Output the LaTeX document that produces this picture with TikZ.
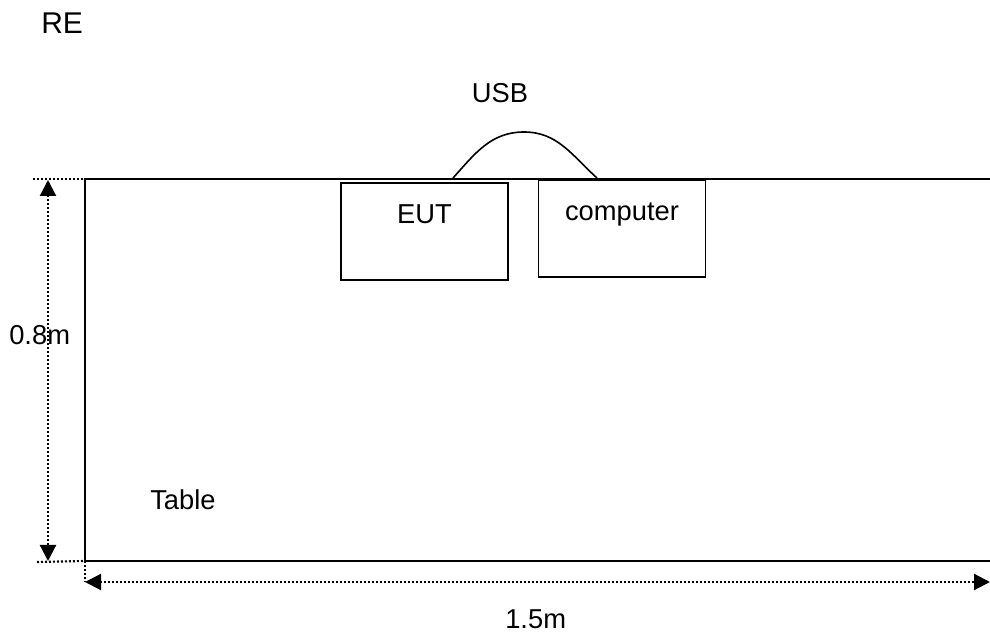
\documentclass[tikz,border=0pt]{standalone}
\usepackage{fontspec}
\setmainfont{Liberation Sans}
\usepackage{tikz}
\usetikzlibrary{positioning,arrows.meta}

\tikzset{
  lbl/.style={font=\fontsize{20.5}{24}\selectfont, inner sep=0pt, anchor=base west},
  devbox/.style={draw, line width=1.2pt, anchor=north, inner ysep=0pt,
    minimum width=125.5pt, text height=30.75pt, text depth=42pt,
    font=\fontsize{20.5}{24}\selectfont},
  dimline/.style={line width=1.6pt, dash pattern=on 1.5pt off 1.5pt},
  dimarrow/.style={dimline, {Triangle[length=12pt,width=12pt]}-{Triangle[length=12pt,width=12pt]}}
}

\begin{document}
\begin{tikzpicture}[x=0.75pt,y=-0.75pt]
  \useasboundingbox (0,0) rectangle (990,634);

  % Title
  \node[lbl, font=\fontsize{22.5}{26}\selectfont] (title) at (41,34) {RE};

  % Table
  \coordinate (tabTL) at (85,179);
  \coordinate (tabBL) at (85,561);
  \coordinate (tabTR) at (990,179);
  \coordinate (tabBR) at (990,561);
  \draw[line width=1.8pt] (tabTR) -- (tabTL) -- (tabBL) -- (tabBR);
  \node[lbl] (tablbl) at (150,510) {Table};

  % Devices
  \node[devbox] (eut) at (424.5,182) {EUT};
  \node[devbox] (pc) at (622,179) {computer};

  % USB cable
  \coordinate (usbL) at (453,178);
  \coordinate (usbTop) at (524,132);
  \coordinate (usbR) at (597,178);
  \draw[line width=1.2pt] (usbL) to[out=48,in=180] (usbTop) to[out=0,in=138] (usbR);
  \node[lbl, anchor=base] (usblbl) at (500,103) {USB};

  % Height
  \coordinate (hTop) at (33,179);
  \coordinate (hBot) at (37,562);
  \coordinate (hA) at (48,180);
  \coordinate (hB) at (48,561);
  \draw[dimline] (hTop) -- (tabTL);
  \draw[dimline] (hBot) -- (tabBL);
  \draw[dimarrow] (hA) -- (hB);
  \node[lbl] (hlbl) at (9,345) {0.8m};

  % Width
  \coordinate (wA) at (85,582);
  \coordinate (wB) at (990,582);
  \draw[dimline] (tabBL) -- (wA);
  \draw[dimarrow] (wA) -- (wB);
  \node[lbl] (wlbl) at (505,629) {1.5m};

\end{tikzpicture}
\end{document}
